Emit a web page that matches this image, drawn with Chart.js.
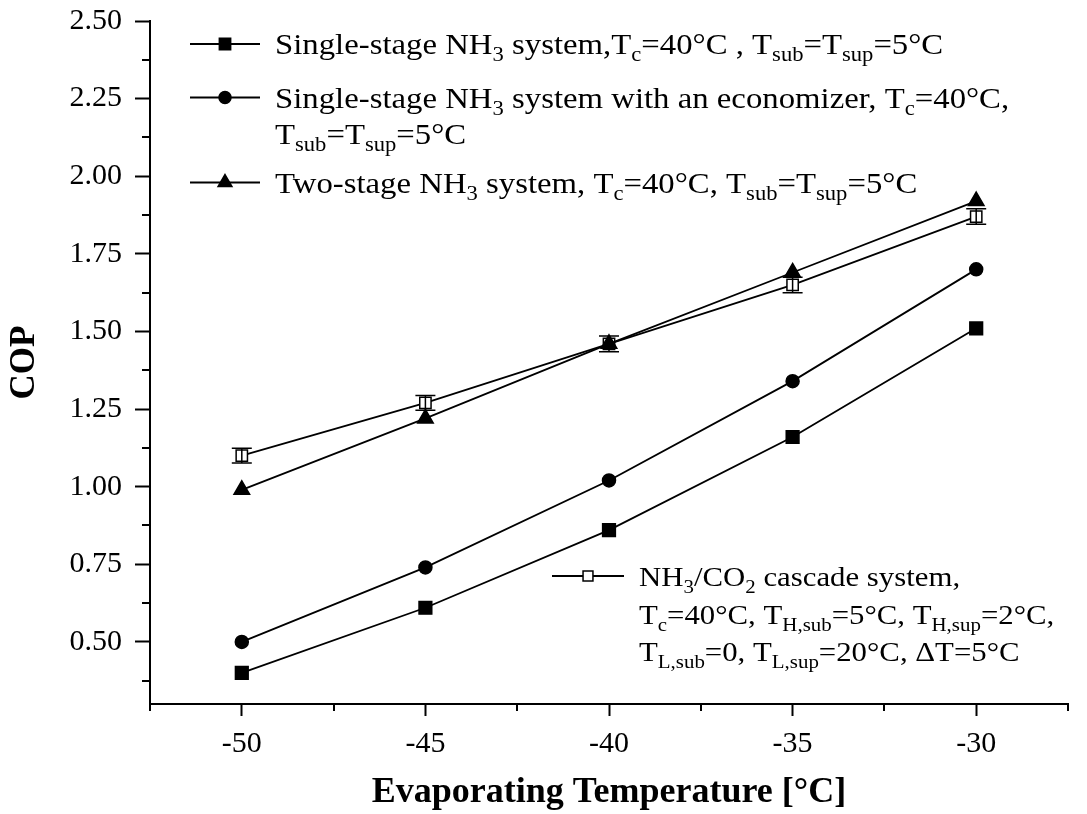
<!DOCTYPE html>
<html>
<head>
<meta charset="utf-8">
<script src="https://cdn.jsdelivr.net/npm/chart.js@4/dist/chart.umd.min.js"></script>
<style>
    html, body { margin: 0; padding: 0; background: #fff; }
</style>
</head>
<body>
<canvas id="copChart" width="1087" height="814"></canvas>
<script>
// evaporating temperature [°C]
const temps = [-50, -45, -40, -35, -30]

// COP values
const singleStage = [0.40, 0.61, 0.86, 1.16, 1.51]
const economizer = [0.50, 0.74, 1.02, 1.34, 1.70]
const twoStage = [0.99, 1.22, 1.46, 1.69, 1.92]
const cascade = [1.10, 1.27, 1.46, 1.65, 1.87]
const cascadeErr = [0.024, 0.024, 0.025, 0.025, 0.025]

const xTicks = [-50, -45, -40, -35, -30]
const xRange = [-52.5, -27.5]
const yRange = [0.3, 2.5]
const xStep = 5
const yStep = 0.25

const seriesNames = [
    'Single-stage NH3 system',
    'Single-stage NH3 system with an economizer',
    'Two-stage NH3 system',
    'NH3/CO2 cascade system',
]

// legend text, _{..} marks a subscript
const legendText = [
    ['Single-stage NH_{3} system,T_{c}=40°C , T_{sub}=T_{sup}=5°C'],
    ['Single-stage NH_{3} system with an economizer, T_{c}=40°C,', 'T_{sub}=T_{sup}=5°C'],
    ['Two-stage NH_{3} system, T_{c}=40°C, T_{sub}=T_{sup}=5°C'],
    ['NH_{3}/CO_{2} cascade system,', 'T_{c}=40°C, T_{H,sub}=5°C, T_{H,sup}=2°C,', 'T_{L,sub}=0, T_{L,sup}=20°C, ΔT=5°C'],
]

const FONT = '"Liberation Serif", "Times New Roman", serif'

function points(ys) {
    return temps.map((t, i) => ({ x: t, y: ys[i] }))
}

function drawRich(ctx, text, x, y, size, sx) {
    const parts = text.split(/(_\{[^}]*\})/)
    ctx.save()
    ctx.translate(x, y)
    ctx.scale(sx, 1)
    ctx.fillStyle = '#000'
    ctx.textAlign = 'left'
    ctx.textBaseline = 'alphabetic'
    let cx = 0
    for (const p of parts) {
        if (!p) continue
        if (p.startsWith('_{')) {
            const s = p.slice(2, -1)
            ctx.font = Math.round(size * 0.68) + 'px ' + FONT
            ctx.fillText(s, cx, size * 0.25)
            cx += ctx.measureText(s).width
        } else {
            ctx.font = size + 'px ' + FONT
            ctx.fillText(p, cx, 0)
            cx += ctx.measureText(p).width
        }
    }
    ctx.restore()
}

function drawMarker(ctx, style, x, y, r, fill) {
    ctx.save()
    ctx.beginPath()
    if (style === 'rect') {
        const h = r * Math.SQRT1_2
        ctx.rect(x - h, y - h, 2 * h, 2 * h)
    } else if (style === 'circle') {
        ctx.arc(x, y, r, 0, Math.PI * 2)
    } else if (style === 'triangle') {
        ctx.moveTo(x, y - r)
        ctx.lineTo(x + r * Math.sin(Math.PI * 2 / 3), y + r / 2)
        ctx.lineTo(x - r * Math.sin(Math.PI * 2 / 3), y + r / 2)
        ctx.closePath()
    }
    ctx.fillStyle = fill
    ctx.fill()
    ctx.lineWidth = 1.5
    ctx.strokeStyle = '#000'
    ctx.stroke()
    ctx.restore()
}

const extras = {
    id: 'extras',
    afterDatasetsDraw(chart) {
        const ctx = chart.ctx
        const xs = chart.scales.x
        const ys = chart.scales.y
        // error bars on the cascade series
        ctx.save()
        ctx.strokeStyle = '#000'
        ctx.lineWidth = 1.5
        cascade.forEach((v, i) => {
            const px = xs.getPixelForValue(temps[i])
            const top = ys.getPixelForValue(v + cascadeErr[i])
            const bot = ys.getPixelForValue(v - cascadeErr[i])
            ctx.beginPath()
            ctx.moveTo(px, top)
            ctx.lineTo(px, bot)
            ctx.moveTo(px - 10, top)
            ctx.lineTo(px + 10, top)
            ctx.moveTo(px - 10, bot)
            ctx.lineTo(px + 10, bot)
            ctx.stroke()
        })
        ctx.restore()
    },
    afterDraw(chart) {
        const ctx = chart.ctx
        const xs = chart.scales.x
        const ys = chart.scales.y
        const area = chart.chartArea

        // minor ticks
        ctx.save()
        ctx.strokeStyle = '#000'
        ctx.lineWidth = 2
        ctx.beginPath()
        for (let v = yRange[0] + 0.075; v < yRange[1]; v += yStep) {
            const py = Math.round(ys.getPixelForValue(v))
            ctx.moveTo(area.left - 8, py)
            ctx.lineTo(area.left, py)
        }
        for (let v = xRange[0]; v <= xRange[1] + 0.01; v += xStep) {
            const px = Math.round(xs.getPixelForValue(v))
            ctx.moveTo(px, area.bottom)
            ctx.lineTo(px, area.bottom + 7)
        }
        ctx.stroke()
        ctx.restore()

        // legend
        const styles = chart.data.datasets.map(d => [d.pointStyle, d.pointBackgroundColor])
        const rows = [
            { y: 44, x0: 190, x1: 260, tx: 275, gap: 36, size: 29, sx: 1.13 },
            { y: 97.5, x0: 190, x1: 260, tx: 275, gap: 36, size: 29, sx: 1.13 },
            { y: 182.5, x0: 190, x1: 260, tx: 275, gap: 36, size: 29, sx: 1.13 },
            { y: 576, x0: 552, x1: 624, tx: 639, gap: 37.5, size: 28, sx: 1.1 },
        ]
        rows.forEach((r, i) => {
            ctx.save()
            ctx.strokeStyle = '#000'
            ctx.lineWidth = 1.8
            ctx.beginPath()
            ctx.moveTo(r.x0, r.y)
            ctx.lineTo(r.x1, r.y)
            ctx.stroke()
            ctx.restore()
            const mx = (r.x0 + r.x1) / 2
            const rad = styles[i][0] === 'circle' ? 6 : 8
            drawMarker(ctx, styles[i][0], mx, r.y, i === 3 ? 7 : rad, styles[i][1])
            legendText[i].forEach((line, k) => {
                drawRich(ctx, line, r.tx, r.y + 10 + k * r.gap, r.size, r.sx)
            })
        })
    }
}

const lineBase = {
    borderColor: '#000',
    borderWidth: 1.8,
    pointBorderColor: '#000',
    pointBorderWidth: 1.5,
    fill: false,
    tension: 0,
}

new Chart(document.getElementById('copChart'), {
    type: 'line',
    data: {
        datasets: [
            { ...lineBase, label: seriesNames[0], data: points(singleStage),
              pointStyle: 'rect', pointRadius: 9, pointBackgroundColor: '#000' },
            { ...lineBase, label: seriesNames[1], data: points(economizer),
              pointStyle: 'circle', pointRadius: 6.5, pointBackgroundColor: '#000' },
            { ...lineBase, label: seriesNames[2], data: points(twoStage),
              pointStyle: 'triangle', pointRadius: 9, pointBackgroundColor: '#000' },
            { ...lineBase, label: seriesNames[3], data: points(cascade),
              pointStyle: 'rect', pointRadius: 8, pointBackgroundColor: '#fff' },
        ]
    },
    options: {
        responsive: false,
        animation: false,
        layout: { padding: { top: 21, right: 19, left: 0, bottom: 0 } },
        plugins: {
            legend: { display: false },
            tooltip: { enabled: false },
        },
        scales: {
            x: {
                type: 'linear',
                min: xRange[0],
                max: xRange[1],
                afterBuildTicks: (s) => { s.ticks = xTicks.map(v => ({ value: v })) },
                afterFit: (s) => {
                    s.height = 110
                    s.paddingLeft = 0
                    s.paddingRight = 0
                },
                border: { display: true, color: '#000', width: 2 },
                grid: { drawOnChartArea: false, drawTicks: true, tickLength: 12, tickWidth: 2, tickColor: '#000' },
                ticks: {
                    color: '#000',
                    padding: 10,
                    maxRotation: 0,
                    autoSkip: false,
                    font: { family: FONT, size: 30 },
                    callback: (v) => String(v),
                },
                title: {
                    display: true,
                    text: 'Evaporating Temperature [°C]',
                    color: '#000',
                    font: { family: FONT, size: 36, weight: 'bold', lineHeight: 1.2 },
                    padding: { top: 0, bottom: 0 },
                },
            },
            y: {
                min: yRange[0],
                max: yRange[1],
                afterFit: (s) => {
                    s.width = 150
                    s.paddingTop = 0
                    s.paddingBottom = 0
                },
                border: { display: true, color: '#000', width: 2 },
                grid: { drawOnChartArea: false, drawTicks: true, tickLength: 15, tickWidth: 2, tickColor: '#000' },
                ticks: {
                    stepSize: yStep,
                    includeBounds: false,
                    color: '#000',
                    padding: 13,
                    font: { family: FONT, size: 30 },
                    callback: (v) => Number(v).toFixed(2),
                },
                title: {
                    display: true,
                    text: 'COP',
                    color: '#000',
                    font: { family: FONT, size: 35, weight: 'bold', lineHeight: 1.2 },
                    padding: { top: 4, bottom: 0 },
                },
            },
        },
    },
    plugins: [extras],
})
</script>
</body>
</html>
